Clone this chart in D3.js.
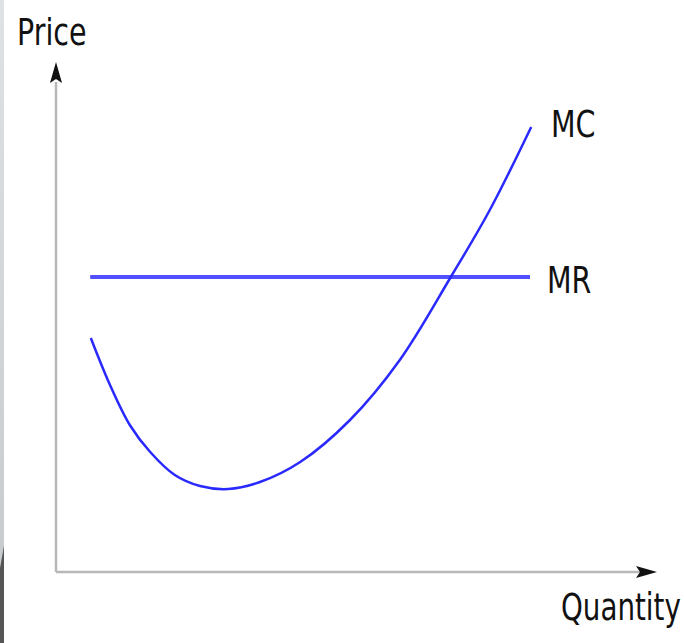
<!DOCTYPE html>
<html><head><meta charset="utf-8">
<script src="https://cdn.jsdelivr.net/npm/d3@7"></script>
<style>body{margin:0;background:#fff}svg{display:block}text{font-family:"DejaVu Sans",sans-serif;fill:#111}</style>
</head><body>
<svg id="c" width="684" height="643"></svg>
<script>
const mcQuantity = [0.58, 0.9, 1.23, 1.57, 1.98, 2.4, 2.87, 3.4, 4.07, 4.9, 5.73, 6.58, 7.23, 7.92];
const mcPrice    = [4.68, 3.74, 2.94, 2.4, 1.94, 1.72, 1.66, 1.8, 2.2, 3.04, 4.24, 5.9, 7.24, 8.9];
const mrQuantity = [0.57, 7.9];
const mrPrice    = [5.9, 5.9];
const axisLabels = ["Price", "Quantity"];
const seriesLabels = ["MC", "MR"];

const svg = d3.select("#c");
const x = d3.scaleLinear().domain([0, 10]).range([56, 656]);
const y = d3.scaleLinear().domain([0, 10]).range([572, 72]);

// left edge strip
const grad = svg.append("defs").append("linearGradient").attr("id","g").attr("x1",0).attr("x2",0).attr("y1",0).attr("y2",1);
grad.append("stop").attr("offset","0%").attr("stop-color","#dfe2e4");
grad.append("stop").attr("offset","100%").attr("stop-color","#c3c8ca");
svg.append("rect").attr("x",0).attr("y",0).attr("width",4).attr("height",643).attr("fill","url(#g)");
svg.append("path").attr("d","M0,568L4,546L4,643L0,643Z").attr("fill","#555");

// axes
svg.append("line").attr("x1",x(0)).attr("y1",y(0)).attr("x2",x(0)).attr("y2",y(9.8))
  .attr("stroke","#b8b8b8").attr("stroke-width",2.5);
svg.append("line").attr("x1",x(0)).attr("y1",y(0)).attr("x2",x(9.85)).attr("y2",y(0))
  .attr("stroke","#b8b8b8").attr("stroke-width",2.5);
// arrowheads
const ax = x(0), ayTop = 62;
svg.append("path").attr("d",`M${ax},${ayTop}L${ax-6},${ayTop+21}L${ax},${ayTop+17}L${ax+6},${ayTop+21}Z`).attr("fill","#111");
const bx = 657, by = y(0);
svg.append("path").attr("d",`M${bx},${by}L${bx-21},${by-6}L${bx-17},${by}L${bx-21},${by+6}Z`).attr("fill","#111");

// curves
const mc = mcQuantity.map((q,i)=>[q, mcPrice[i]]);
const mr = mrQuantity.map((q,i)=>[q, mrPrice[i]]);
const line = d3.line().x(d=>x(d[0])).y(d=>y(d[1])).curve(d3.curveCatmullRom.alpha(0.5));
svg.append("path").attr("d", line(mr)).attr("fill","none").attr("stroke","#5050ff").attr("stroke-width",4);
svg.append("path").attr("d", line(mc)).attr("fill","none").attr("stroke","#2a2aff").attr("stroke-width",2.5);

// labels (narrow, tall lettering)
function label(tx, ty, t, sx) {
  svg.append("text").attr("transform", `translate(${tx},${ty}) scale(${sx || 0.77},1)`)
    .attr("font-size", 37).text(t);
}
label(17, 45, axisLabels[0]);
label(561, 620, axisLabels[1], 0.75);
label(551, 137, seriesLabels[0]);
label(547, 293, seriesLabels[1]);
</script>
</body></html>
